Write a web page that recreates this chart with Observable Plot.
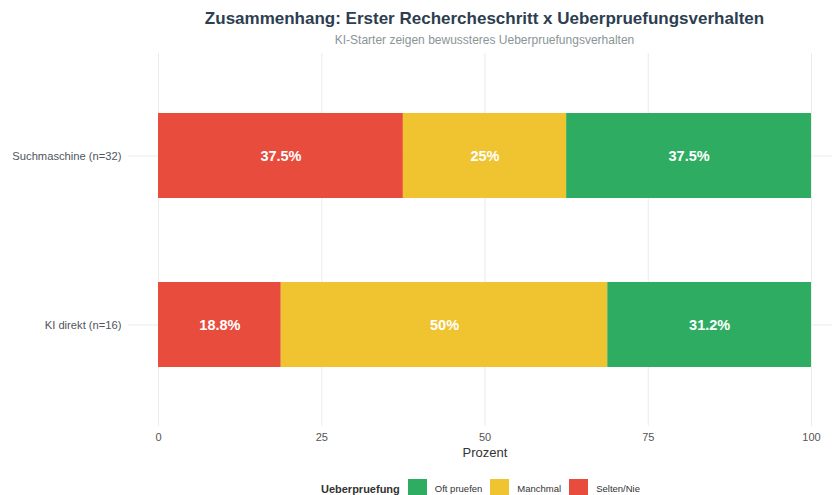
<!DOCTYPE html>
<html><head><meta charset="utf-8">
<script src="https://cdn.jsdelivr.net/npm/d3@7"></script>
<script src="https://cdn.jsdelivr.net/npm/@observablehq/plot@0.6"></script>
<style>
body{margin:0;background:#fff;font-family:"Liberation Sans",Arial,sans-serif;}
#wrap{position:relative;width:832px;height:495px;overflow:hidden;background:#fff;}
#title{position:absolute;left:0;top:8px;width:969px;text-align:center;font-size:17px;font-weight:bold;color:#2C3E50;line-height:22px;}
#subtitle{position:absolute;left:0;top:32px;width:969px;text-align:center;font-size:12px;color:#8A9597;line-height:16px;}
#chart{position:absolute;left:0;top:0;}
#legend{position:absolute;left:0;top:479px;width:969px;display:flex;justify-content:center;align-items:center;font-size:9.5px;color:#333;}
#legend .lt{font-weight:bold;font-size:11px;margin-right:8px;}
#legend .key{width:19px;height:19px;margin-right:8px;}
#legend .lab{margin-right:8px;}
</style>
</head><body>
<div id="wrap">
  <div id="chart"></div>
  <div id="title">Zusammenhang: Erster Rechercheschritt x Ueberpruefungsverhalten</div>
  <div id="subtitle">KI-Starter zeigen bewussteres Ueberpruefungsverhalten</div>
  <div id="legend"></div>
</div>
<script>
const categories = ["Suchmaschine (n=32)", "KI direkt (n=16)"];
const levels = ["Selten/Nie", "Manchmal", "Oft pruefen"];
const legendOrder = ["Oft pruefen", "Manchmal", "Selten/Nie"];
const colors = ["#E74C3C", "#F0C330", "#2EAD62"];
const seltenNie = [37.5, 18.8];
const manchmal = [25, 50];
const oftPruefen = [37.5, 31.2];
const xTicks = [0, 25, 50, 75, 100];

const series = [seltenNie, manchmal, oftPruefen];
const data = [];
categories.forEach((c, i) => {
  levels.forEach((l, j) => {
    data.push({cat: c, level: l, value: series[j][i]});
  });
});

const plot = Plot.plot({
  width: 832,
  height: 495,
  marginTop: 53,
  marginBottom: 69,
  marginLeft: 128,
  marginRight: 0,
  style: {fontFamily: '"Liberation Sans", Arial, sans-serif', background: "transparent"},
  x: {domain: [0, 100], range: [158, 811]},
  y: {domain: categories, range: [113, 367], paddingInner: 0.5, paddingOuter: 0},
  color: {domain: levels, range: colors},
  marks: [
    Plot.gridX(xTicks, {stroke: "#EBEBEB", strokeOpacity: 1, strokeWidth: 1}),
    Plot.gridY(categories, {stroke: "#EBEBEB", strokeOpacity: 1, strokeWidth: 1}),
    Plot.barX(data, Plot.stackX({x: "value", y: "cat", z: "level", fill: "level", order: levels})),
    Plot.text(data, Plot.stackX({x: "value", y: "cat", z: "level", order: levels,
      text: d => `${d.value}%`, fill: "white", fontWeight: "bold", fontSize: 14.5})),
    Plot.axisX(xTicks, {tickSize: 0, tickPadding: 7, fontSize: 11, color: "#555", label: null}),
    Plot.axisY(categories, {tickSize: 0, tickPadding: 7, fontSize: 11.2, color: "#4F5660", label: null}),
    Plot.text(["Prozent"], {x: () => 50, frameAnchor: "bottom", dy: 26, fontSize: 13, fill: "#333", lineAnchor: "middle"})
  ]
});
document.getElementById("chart").appendChild(plot);

const leg = document.getElementById("legend");
const t = document.createElement("span"); t.className = "lt"; t.textContent = "Ueberpruefung"; leg.appendChild(t);
legendOrder.forEach(l => {
  const k = document.createElement("span"); k.className = "key";
  k.style.background = colors[levels.indexOf(l)]; leg.appendChild(k);
  const s = document.createElement("span"); s.className = "lab"; s.textContent = l; leg.appendChild(s);
});
</script>
</body></html>
